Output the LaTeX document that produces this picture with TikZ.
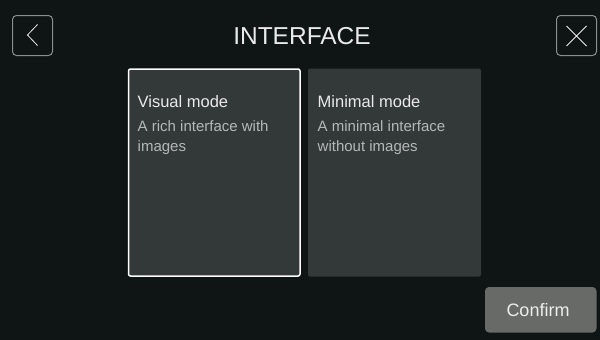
\documentclass[tikz,border=0pt]{standalone}
\usepackage{fontspec}
\setmainfont{Liberation Sans}
\definecolor{bg}{HTML}{0F1414}
\definecolor{card}{HTML}{333838}
\definecolor{btn}{HTML}{686A68}
\definecolor{iconline}{HTML}{8A8E8E}
\definecolor{subtxt}{HTML}{B4B8B8}
\definecolor{headtxt}{HTML}{EAEAEA}
\tikzset{
  iconbox/.style={draw=iconline, line width=1pt, rounded corners=4pt},
  cardbox/.style={fill=card, rounded corners=2pt},
  cardhead/.style={anchor=base west, text=headtxt, font=\fontsize{16.5}{18}\selectfont, inner sep=0pt},
  cardsub/.style={anchor=base west, text=subtxt, font=\fontsize{15}{20}\selectfont, inner sep=0pt, align=left},
  glyph/.style={draw=headtxt!90, line width=0.8pt}
}
\begin{document}
\begin{tikzpicture}[x=1pt,y=-1pt]
\useasboundingbox (0,0) rectangle (600,340);
\fill[bg] (0,0) rectangle (600,340);
% top bar buttons
\draw[iconbox] (12.5,15.5) rectangle (52.5,55.5);
\coordinate (bk1) at (37.5,24.5);
\coordinate (bk2) at (27.5,35);
\coordinate (bk3) at (37.5,45.5);
\draw[glyph] (bk1) -- (bk2) -- (bk3);
\draw[iconbox] (556.5,15.5) rectangle (596.5,55.5);
\coordinate (x1) at (566.5,26);
\coordinate (x2) at (586.5,46);
\coordinate (x3) at (586.5,26);
\coordinate (x4) at (566.5,46);
\draw[glyph] (x1) -- (x2) (x3) -- (x4);
\node[text=headtxt, font=\fontsize{24.5}{26}\selectfont, inner sep=0pt, anchor=base] (title) at (302,44) {INTERFACE};
% cards
\draw[cardbox, draw=white, line width=1.5pt] (128.5,69) rectangle (300,276);
\fill[cardbox] (308,68.5) rectangle (481,276.5);
\node[cardhead] (vh) at (137.5,107) {Visual mode};
\node[cardsub] (vs) at (137.5,151) {A rich interface with\\images};
\node[cardhead] (mh) at (317.5,107) {Minimal mode};
\node[cardsub] (ms) at (317.5,151) {A minimal interface\\without images};
% confirm
\fill[btn, rounded corners=4pt] (485,287) rectangle (596.5,332.5);
\node[text=white!93!black, font=\fontsize{18}{20}\selectfont, inner sep=0pt, anchor=base] (confirm) at (538,316) {Confirm};
\end{tikzpicture}
\end{document}
